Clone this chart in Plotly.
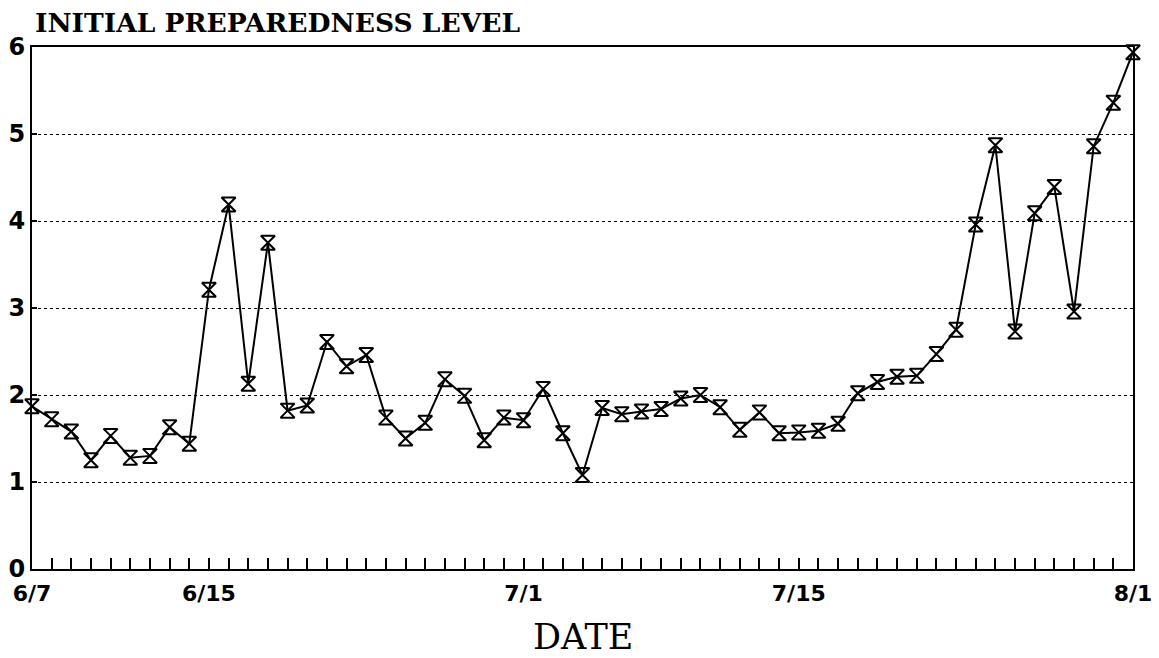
import plotly.graph_objects as go

# Day index 0..56 (daily observations)
day_index = list(range(57))
levels = [
    1.87, 1.72, 1.58, 1.25, 1.53, 1.28, 1.30, 1.63, 1.44, 3.21,
    4.19, 2.13, 3.75, 1.82, 1.88, 2.61, 2.33, 2.46, 1.74, 1.50,
    1.68, 2.18, 1.99, 1.48, 1.74, 1.71, 2.07, 1.56, 1.08, 1.85,
    1.78, 1.81, 1.84, 1.96, 2.00, 1.86, 1.60, 1.80, 1.56, 1.57,
    1.59, 1.67, 2.02, 2.15, 2.21, 2.22, 2.47, 2.75, 3.96, 4.87,
    2.73, 4.09, 4.39, 2.96, 4.86, 5.36, 5.94,
]
x_tick_vals = [0, 9, 25, 39, 56]
x_tick_text = ["6/7", "6/15", "7/1", "7/15", "8/1"]
y_tick_vals = [0, 1, 2, 3, 4, 5, 6]

fig = go.Figure()
fig.add_trace(go.Scatter(
    x=day_index, y=levels, mode="lines+markers",
    line=dict(color="black", width=2),
    marker=dict(symbol="hourglass-open", size=14, color="black",
                line=dict(color="black", width=2)),
    cliponaxis=False, showlegend=False,
))

# the page has an 8px body margin, so the figure is sized to fit the window
fig.update_layout(
    width=1151, height=650,
    margin=dict(l=24, r=26, t=39, b=89, autoexpand=False),
    paper_bgcolor="white", plot_bgcolor="white",
    title=dict(text="<b>INITIAL PREPAREDNESS LEVEL</b>",
               font=dict(family="DejaVu Serif", size=26.5, color="black"),
               x=27/1151, xanchor="left", xref="container",
               y=1-15/650, yanchor="middle", yref="container"),
    annotations=[dict(text="DATE", xref="paper", yref="paper",
                      x=0.5, y=-(628-561)/514, xanchor="center", yanchor="middle",
                      showarrow=False,
                      font=dict(family="DejaVu Serif", size=35, color="black"))],
)

fig.update_xaxes(
    range=[0, 56], tickmode="array", tickvals=x_tick_vals, ticktext=x_tick_text,
    ticks="inside", ticklen=11, tickwidth=2, tickcolor="black",
    minor=dict(tick0=0, dtick=1, ticks="inside", ticklen=11, tickwidth=2,
               tickcolor="black", showgrid=False),
    showgrid=False, zeroline=False, automargin=False,
    showline=True, linecolor="black", linewidth=2, mirror=True,
    tickfont=dict(family="DejaVu Sans", size=22, color="black", weight="bold"),
    ticklabelstandoff=4,
)
fig.update_yaxes(
    range=[0, 6], tickmode="array", tickvals=y_tick_vals,
    ticks="inside", ticklen=5, tickwidth=2, tickcolor="black",
    showgrid=True, gridcolor="black", gridwidth=1, griddash="dot",
    zeroline=False, automargin=False,
    showline=True, linecolor="black", linewidth=2, mirror=True,
    tickfont=dict(family="DejaVu Sans", size=24, color="black", weight="bold"),
    ticklabelstandoff=0,
)

fig.write_html("out.html")
